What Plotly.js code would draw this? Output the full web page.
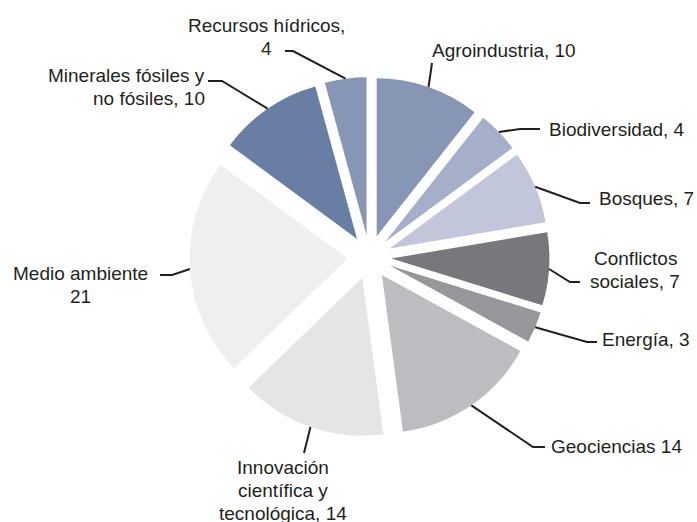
<!DOCTYPE html>
<html>
<head>
<meta charset="utf-8">
<script src="https://cdn.plot.ly/plotly-3.0.1.min.js"></script>
<style>
  html, body { margin: 0; padding: 0; background: white; }
  #chart { width: 697px; height: 522px; }
</style>
</head>
<body>
<div id="chart"></div>
<script>
// Temas de investigación: número de proyectos por área.
const areas = [
  "Agroindustria", "Biodiversidad", "Bosques", "Conflictos sociales", "Energía",
  "Geociencias", "Innovación científica y tecnológica", "Medio ambiente",
  "Minerales fósiles y no fósiles", "Recursos hídricos",
];
const projects = [10, 4, 7, 7, 3, 14, 14, 21, 10, 4];
// Label text before the number (line breaks as in the original).
const labelPrefix = [
  "Agroindustria, ", "Biodiversidad, ", "Bosques, ", "Conflictos<br>sociales, ", "Energía, ",
  "Geociencias ", "Innovación<br>científica y<br>tecnológica, ", "Medio ambiente<br>",
  "Minerales fósiles y<br>no fósiles, ", "Recursos hídricos,<br>",
];
const sliceColors = [
  "#8796b5", "#a6afc9", "#c2c6da", "#77787c", "#96979b",
  "#bcbdc1", "#e4e5e7", "#eeeff1", "#687fa3", "#8796b5",
];

const W = 697, H = 522;
const INK = "#231f20";
const FONT = { family: "Liberation Sans, Arial, sans-serif", size: 19, color: INK };
const LINE_GAP = 23;

// Pie geometry in pixels: centre, radius and how far every slice is pulled out.
const CX = 369.5, CY = 257, R = 158, PULL = 0.139;

// Where each label sits and how its leader bends (pixels).
// elbow/tail: points after the slice edge; text: centre of the label block.
const placement = [
  { elbow: [432, 63], tail: [432, 63], text: [431, 50], xanchor: "left" },
  { elbow: [520, 129], tail: [540, 129], text: [548, 129], xanchor: "left" },
  { elbow: [580, 203], tail: [590, 203], text: [598, 198], xanchor: "left" },
  { elbow: [570, 282], tail: [580, 282], text: [635, 270], xanchor: "center" },
  { elbow: [587, 342], tail: [597, 342], text: [601, 340], xanchor: "left" },
  { elbow: [533, 447], tail: [545, 447], text: [550, 446], xanchor: "left" },
  { elbow: [304, 453], tail: [304, 453], text: [283, 490], xanchor: "center" },
  { elbow: [172, 275], tail: [160, 275], text: [80, 285], xanchor: "center" },
  { elbow: [222, 81], tail: [208, 81], text: [206, 87], xanchor: "right" },
  { elbow: [293, 51], tail: [285, 51], text: [266, 37], xanchor: "center" },
];

const px = (x) => x / W;
const py = (y) => 1 - y / H;

const D = 2 * R * (1 + PULL);
const total = projects.reduce((a, b) => a + b, 0);

// Midpoint of each slice's outer arc, after the pull (clockwise from 12 o'clock).
let acc = 0;
const arcPoints = projects.map((v) => {
  const mid = ((acc + v / 2) / total) * 2 * Math.PI;
  acc += v;
  const rr = R * (1 + PULL);
  return [CX + rr * Math.sin(mid), CY - rr * Math.cos(mid)];
});

const trace = {
  type: "pie",
  labels: areas,
  values: projects,
  sort: false,
  direction: "clockwise",
  rotation: 0,
  pull: projects.map(() => PULL),
  marker: { colors: sliceColors, line: { width: 0 } },
  textinfo: "none",
  hoverinfo: "label+value",
  showlegend: false,
  domain: {
    x: [px(CX - D / 2), px(CX + D / 2)],
    y: [py(CY + D / 2), py(CY - D / 2)],
  },
};

const shapes = arcPoints.map((p, i) => {
  const pl = placement[i];
  return {
    type: "path", xref: "paper", yref: "paper",
    path: `M ${px(p[0])},${py(p[1])} L ${px(pl.elbow[0])},${py(pl.elbow[1])} L ${px(pl.tail[0])},${py(pl.tail[1])}`,
    line: { color: INK, width: 2 },
  };
});

// One annotation per text line so the line spacing matches the original.
const annotations = [];
projects.forEach((v, i) => {
  const pl = placement[i];
  const lines = (labelPrefix[i] + v).split("<br>");
  lines.forEach((t, k) => {
    const yy = pl.text[1] + (k - (lines.length - 1) / 2) * LINE_GAP;
    annotations.push({
      xref: "paper", yref: "paper",
      x: px(pl.text[0]), y: py(yy),
      xanchor: pl.xanchor, yanchor: "middle",
      text: t, showarrow: false, borderpad: 0,
      font: FONT,
    });
  });
});

Plotly.newPlot("chart", [trace], {
  width: W, height: H,
  margin: { l: 0, r: 0, t: 0, b: 0 },
  paper_bgcolor: "white",
  plot_bgcolor: "white",
  font: FONT,
  shapes: shapes,
  annotations: annotations,
}, { displayModeBar: false, staticPlot: true });
</script>
</body>
</html>
